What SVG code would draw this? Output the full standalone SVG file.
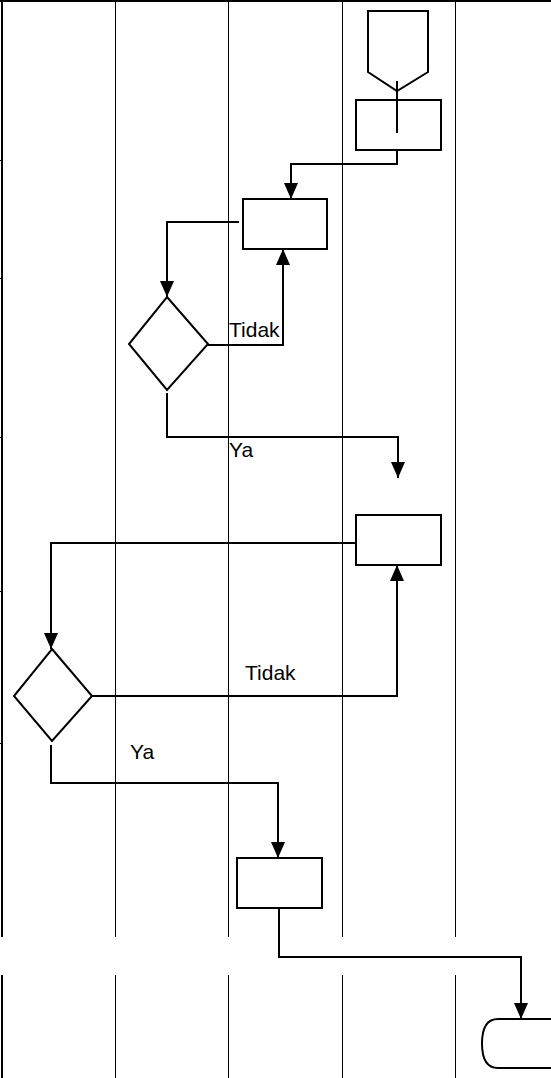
<svg xmlns="http://www.w3.org/2000/svg" width="551" height="1078" viewBox="0 0 551 1078">
<defs>
<style>
.lane{stroke:#000;stroke-width:1;fill:none}
.shape{stroke:#000;stroke-width:2;fill:#fff}
.conn{stroke:#000;stroke-width:2;fill:none}
.lbl{font-family:"Liberation Sans",Arial,sans-serif;font-size:21px;fill:#000}
</style>
<marker id="arr" markerUnits="userSpaceOnUse" markerWidth="17" markerHeight="14" refX="16" refY="7" orient="auto">
<path d="M0,0 L16,7 L0,14 z" fill="#000"/>
</marker>
</defs>
<g id="lanes">
<line x1="0" y1="1" x2="551" y2="1" stroke="#000" stroke-width="2"/>
<line x1="2" y1="0" x2="2" y2="937" stroke="#000" stroke-width="2"/>
<line x1="2" y1="975" x2="2" y2="1078" stroke="#000" stroke-width="2"/>
<line class="lane" x1="115.5" y1="0" x2="115.5" y2="937"/>
<line class="lane" x1="115.5" y1="975" x2="115.5" y2="1078"/>
<line class="lane" x1="228.5" y1="0" x2="228.5" y2="937"/>
<line class="lane" x1="228.5" y1="975" x2="228.5" y2="1078"/>
<line class="lane" x1="342.5" y1="0" x2="342.5" y2="937"/>
<line class="lane" x1="342.5" y1="975" x2="342.5" y2="1078"/>
<line class="lane" x1="455.5" y1="0" x2="455.5" y2="937"/>
<line class="lane" x1="455.5" y1="975" x2="455.5" y2="1078"/>
<line class="lane" x1="0" y1="160.5" x2="3" y2="160.5"/>
<line class="lane" x1="0" y1="278.5" x2="3" y2="278.5"/>
<line class="lane" x1="0" y1="437.5" x2="3" y2="437.5"/>
<line class="lane" x1="0" y1="591.5" x2="3" y2="591.5"/>
<line class="lane" x1="0" y1="743.5" x2="3" y2="743.5"/>
</g>
<g id="connectors">
<polyline class="conn" points="397,150 397,164 291,164 291,199" marker-end="url(#arr)"/>
<polyline class="conn" points="239,222 167,222 167,297" marker-end="url(#arr)"/>
<polyline class="conn" points="208,345 283,345 283,249" marker-end="url(#arr)"/>
<polyline class="conn" points="167,393 167,437 398,437 398,478" marker-end="url(#arr)"/>
<polyline class="conn" points="356,543 51,543 51,649" marker-end="url(#arr)"/>
<polyline class="conn" points="92,696 397,696 397,565" marker-end="url(#arr)"/>
<polyline class="conn" points="51,745 51,783 278,783 278,858" marker-end="url(#arr)"/>
<polyline class="conn" points="279,908 279,957 521,957 521,1019" marker-end="url(#arr)"/>
</g>
<g id="offpage">
<polygon class="shape" points="368,11 428,11 428,72 397,91 368,72"/>
</g>
<g id="rect1">
<rect class="shape" x="356" y="100" width="85" height="50"/>
<line class="conn" x1="397" y1="81" x2="397" y2="133"/>
</g>
<g id="rect2">
<rect class="shape" x="243" y="199" width="84" height="50"/>
</g>
<g id="diamond1">
<polygon class="shape" points="167,297 208,344 167,390 129,344"/>
</g>
<g id="label-tidak1"><text class="lbl" x="229" y="337">Tidak</text></g>
<g id="label-ya1"><text class="lbl" x="229" y="457">Ya</text></g>
<g id="rect3">
<rect class="shape" x="356" y="515" width="85" height="50"/>
</g>
<g id="diamond2">
<polygon class="shape" points="52,649 92,696 52,741 14,696"/>
</g>
<g id="label-tidak2"><text class="lbl" x="245" y="680">Tidak</text></g>
<g id="label-ya2"><text class="lbl" x="130" y="759">Ya</text></g>
<g id="rect4">
<rect class="shape" x="237" y="858" width="85" height="50"/>
</g>
<g id="terminator">
<path class="shape" d="M553,1019 H498 Q482,1019 482,1043.5 Q482,1068 498,1068 H553"/>
</g>
</svg>
